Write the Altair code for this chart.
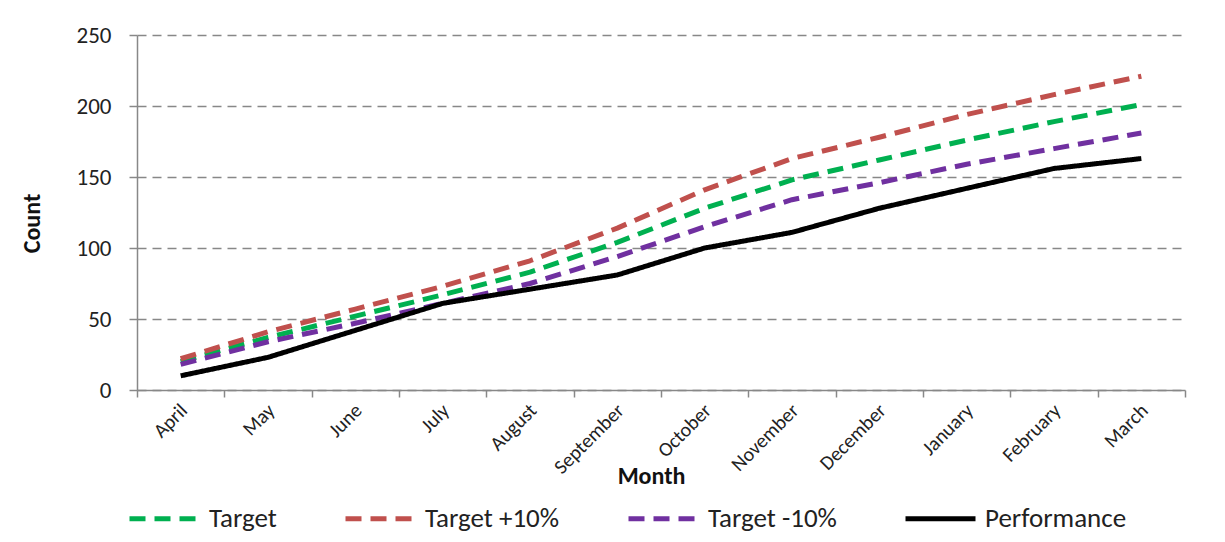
import altair as alt
import pandas as pd

months = ["April", "May", "June", "July", "August", "September", "October",
          "November", "December", "January", "February", "March"]
series_names = ["Target", "Target +10%", "Target -10%", "Performance"]
target = [20, 37, 52, 67, 83, 104, 128, 148, 162, 176, 189, 201]
target_plus = [22, 41, 57, 73, 91, 114, 141, 163, 178, 194, 208, 221]
target_minus = [18, 34, 47, 61, 75, 94, 115, 134, 146, 159, 170, 181]
performance = [10, 23, 42, 61, 71, 81, 100, 111, 128, 142, 156, 163]
colors = ["#00B050", "#C0504D", "#7030A0", "#000000"]
y_ticks = [0, 50, 100, 150, 200, 250]

rows = []
for name, vals in zip(series_names, [target, target_plus, target_minus, performance]):
    for m, v in zip(months, vals):
        rows.append({"Month": m, "Series": name, "Count": v})
df = pd.DataFrame(rows)

FONT = "Carlito, 'Liberation Sans Narrow', Lato, sans-serif"

chart = alt.Chart(df).mark_line(strokeWidth=5, strokeCap="butt", strokeJoin="round").encode(
    x=alt.X("Month:N", sort=months, scale=alt.Scale(paddingInner=0, paddingOuter=0),
            axis=alt.Axis(title="Month", labelAngle=-45, labelFontSize=20, labelColor="#222",
                          tickBand="extent", tickSize=7, tickColor="#888", domainColor="#888",
                          domainWidth=1.5, tickWidth=1.5, labelPadding=3, labelOffset=-4,
                          titleFontSize=24, titleFontWeight="bold", titleColor="#111",
                          titleX=514, titleY=86, titleBaseline="middle", grid=False)),
    y=alt.Y("Count:Q", scale=alt.Scale(domain=[0, 250], nice=False),
            axis=alt.Axis(title="Count", values=y_ticks, labelFontSize=23, labelColor="#222",
                          tickSize=8, tickColor="#888", domainColor="#888", domainWidth=1.5,
                          tickWidth=1.5, labelPadding=18,
                          grid=True, gridColor="#888", gridDash=[9, 6], gridWidth=1.5,
                          titleFontSize=24, titleFontWeight="bold", titleColor="#111",
                          titleX=-105, titleY=188, titleBaseline="middle")),
    color=alt.Color("Series:N", sort=series_names,
                    scale=alt.Scale(domain=series_names, range=colors),
                    legend=alt.Legend(title=None, orient="none", direction="horizontal",
                                      legendX=-10, legendY=446, columns=4,
                                      symbolType="stroke", symbolSize=4900, symbolStrokeWidth=5,
                                      labelFontSize=27, labelColor="#222", labelOffset=7,
                                      columnPadding=58, labelLimit=300)),
    strokeDash=alt.StrokeDash("Series:N", sort=series_names,
                              scale=alt.Scale(domain=series_names,
                                              range=[[16, 9], [16, 9], [16, 9], [1, 0]]),
                              legend=None),
).properties(
    width=1048, height=355,
    autosize=alt.AutoSizeParams(type="none"),
    padding={"left": 129, "top": 27, "right": 32, "bottom": 144},
).configure(
    font=FONT,
).configure_view(stroke=None)

chart.save("out.html", embed_options={"renderer": "svg", "actions": False})
